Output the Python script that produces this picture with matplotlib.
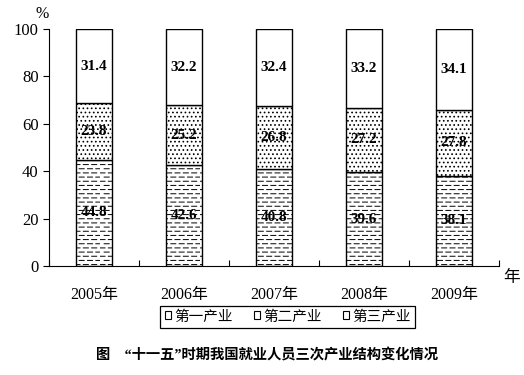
import matplotlib
matplotlib.use("Agg")
import matplotlib.pyplot as plt
import matplotlib.hatch as mhatch
from matplotlib.path import Path
from matplotlib.patches import Patch
import numpy as np

# 数据
years = ["2005年", "2006年", "2007年", "2008年", "2009年"]
primary = [44.8, 42.6, 40.8, 39.6, 38.1]
secondary = [23.8, 25.2, 26.8, 27.2, 27.8]
tertiary = [31.4, 32.2, 32.4, 33.2, 34.1]
series_names = ["第一产业", "第二产业", "第三产业"]


# 横向虚线填充（替换默认的 '-' 实线填充）
N_DASH = 12


def _dash_init(self, hatch, density):
    self.num_lines = int((hatch.count('-') + hatch.count('+')) * density)
    self.num_vertices = self.num_lines * N_DASH * 2


def _dash_vertices(self, vertices, codes):
    steps, stepsize = np.linspace(0.0, 1.0, self.num_lines, False, retstep=True)
    steps += stepsize / 2.
    period = 1.0 / N_DASH
    k = 0
    for r, y in enumerate(steps):
        shift = (period / 2) * (r % 2)
        for j in range(N_DASH):
            x0 = (j * period + shift) % 1.0
            x1 = x0 + period * 0.6
            vertices[k] = (x0, y)
            vertices[k + 1] = (min(x1, 1.0), y)
            codes[k] = Path.MOVETO
            codes[k + 1] = Path.LINETO
            k += 2


mhatch.HorizontalHatch.__init__ = _dash_init
mhatch.HorizontalHatch.set_vertices_and_codes = _dash_vertices

plt.rcParams['font.family'] = ['Liberation Serif', 'Noto Sans CJK SC']
plt.rcParams['hatch.linewidth'] = 0.7

fig = plt.figure(figsize=(5.24, 3.75), dpi=100)
ax = fig.add_axes([0.0935, 0.2907, 0.8585, 0.632])

x = np.arange(len(years))
w = 0.4
ax.bar(x, primary, w, color='white', edgecolor='black', hatch='----', linewidth=1)
ax.bar(x, secondary, w, bottom=primary, color='white', edgecolor='black',
       hatch='....', linewidth=1)
bot3 = np.array(primary) + np.array(secondary)
ax.bar(x, tertiary, w, bottom=bot3, color='white', edgecolor='black', linewidth=1)

for i in range(len(years)):
    ax.text(x[i], primary[i] / 2, f"{primary[i]:.1f}", ha='center', va='center',
            fontsize=11, fontweight='bold')
    ax.text(x[i], primary[i] + secondary[i] / 2, f"{secondary[i]:.1f}", ha='center',
            va='center', fontsize=11, fontweight='bold')
    ax.text(x[i], bot3[i] + tertiary[i] / 2, f"{tertiary[i]:.1f}", ha='center',
            va='center', fontsize=11, fontweight='bold')

ax.set_xlim(-0.5, len(years) - 0.5)
ax.set_ylim(0, 100)
ax.set_yticks(range(0, 101, 20))
ax.tick_params(axis='y', direction='out', length=4, labelsize=12)
ax.set_xticks(np.arange(-0.5, len(years), 1))
ax.set_xticklabels([])
ax.set_xticks(x, minor=True)
ax.set_xticklabels(years, minor=True, fontsize=11.5)
ax.tick_params(axis='x', which='major', direction='in', length=4)
ax.tick_params(axis='x', which='minor', length=0, pad=15)
ax.spines['top'].set_visible(False)
ax.spines['right'].set_visible(False)

ax.text(-0.016, 1.03, "%", transform=ax.transAxes, fontsize=11.5, ha='center', va='bottom')
fig.text(0.977, 0.258, "年", fontsize=12, ha='center', va='center')

handles = [Patch(facecolor='white', edgecolor='black', linewidth=0.8),
           Patch(facecolor='white', edgecolor='black', linewidth=0.8),
           Patch(facecolor='white', edgecolor='black', linewidth=0.8)]
leg = fig.legend(handles, series_names, loc='center', bbox_to_anchor=(0.549, 0.155),
                 ncol=3, fancybox=False, edgecolor='black', framealpha=1,
                 handlelength=0.45, handleheight=0.45, handletextpad=0.2,
                 columnspacing=1.45, fontsize=10.5, borderpad=0.3)
leg.get_frame().set_linewidth(0.9)

fig.text(0.51, 0.053, "图　“十一五”时期我国就业人员三次产业结构变化情况",
         ha='center', va='center', fontsize=10.3, fontweight='bold')

fig.savefig("out.png", dpi=100)
